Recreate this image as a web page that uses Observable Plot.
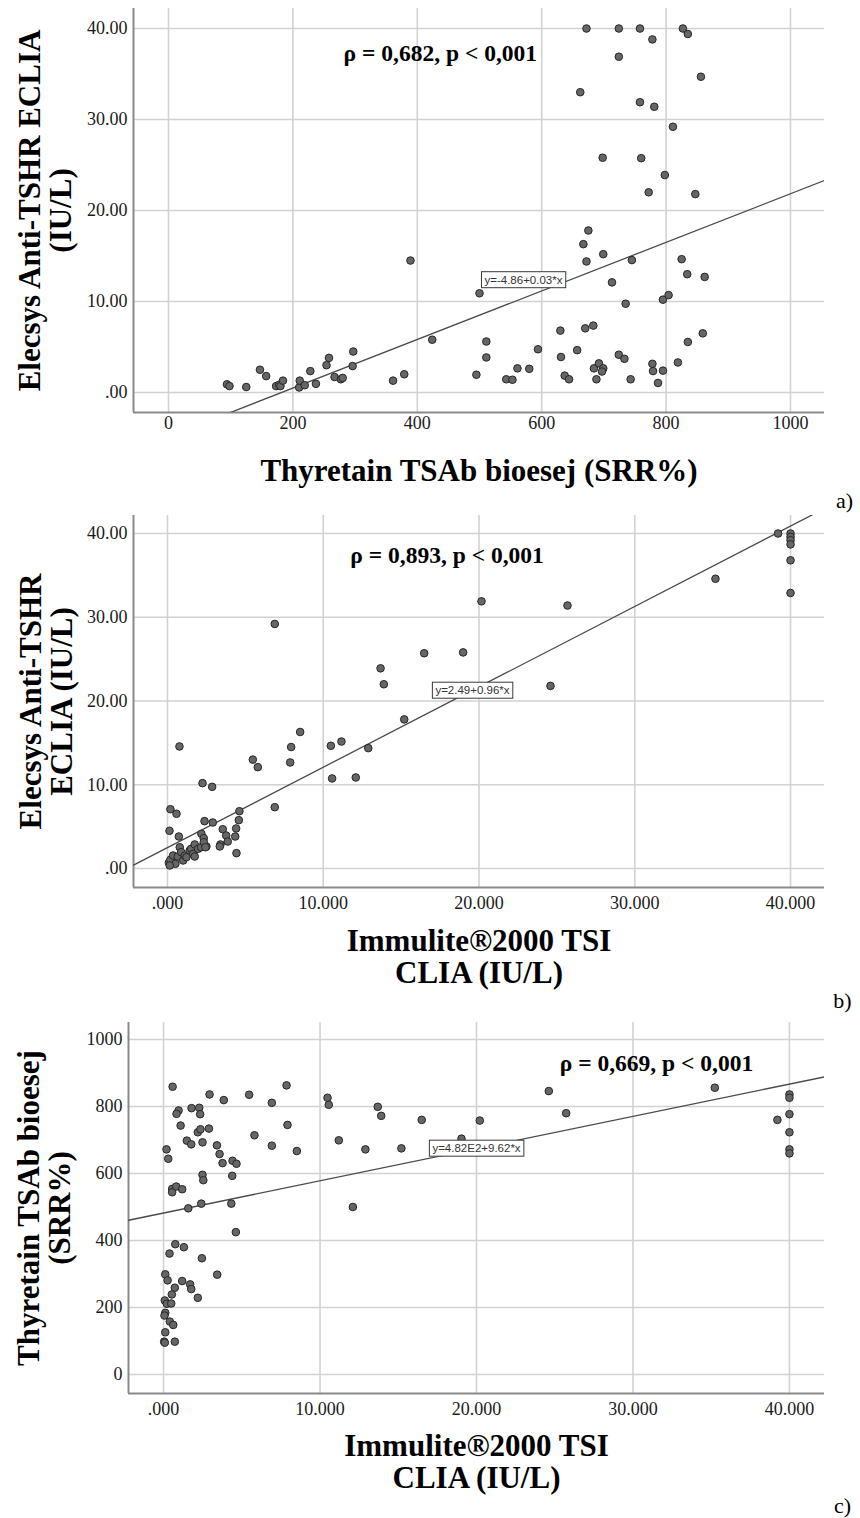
<!DOCTYPE html>
<html>
<head>
<meta charset="utf-8">
<script src="https://cdn.jsdelivr.net/npm/d3@7"></script>
<script src="https://cdn.jsdelivr.net/npm/@observablehq/plot@0.6"></script>
<style>
  html, body { margin: 0; padding: 0; background: #fff; }
  #chart { width: 860px; }
  #chart svg { display: block; }
  #chart svg g[aria-label="x-axis tick label"],
  #chart svg g[aria-label="y-axis tick label"] {
    font-family: 'Liberation Serif', 'Times New Roman', Times, serif;
    font-variant: normal;
  }
</style>
</head>
<body>
<div id="chart"></div>
<script>
// ---------- Panel a: Thyretain TSAb (x) vs Elecsys Anti-TSHR (y) ----------
const a_tsab = [94, 98, 125, 147, 157, 173, 178, 180, 184, 210, 211, 219, 228, 237, 254, 258, 267, 277, 280, 296, 297, 361, 379, 389, 424, 495, 500,
  672, 724, 758, 827, 835, 778, 724, 856, 662, 758, 781, 811, 698, 760, 798, 772, 847, 675, 667, 699, 672, 745, 825, 834, 862, 713, 735, 795, 804,
  630, 670, 683, 835, 859, 511, 511, 594, 657, 631, 724, 733, 819, 778, 779, 795, 787, 543, 553, 561, 580, 637, 644, 684, 692, 699, 697, 688, 743];
const a_elecsys = [0.9, 0.7, 0.6, 2.5, 1.8, 0.7, 0.85, 0.7, 1.3, 0.55, 1.3, 0.8, 2.35, 0.95, 3.0, 3.8, 1.7, 1.45, 1.6, 2.9, 4.5, 1.3, 2.0, 14.5, 5.8, 1.95, 10.9,
  40, 40, 40, 40, 39.4, 38.8, 36.9, 34.7, 33.0, 31.9, 31.4, 29.2, 25.8, 25.75, 23.9, 22.0, 21.8, 17.8, 16.3, 15.2, 14.4, 14.55, 14.65, 13.0, 12.7, 12.1, 9.75, 10.2, 10.7,
  6.8, 7.05, 7.35, 5.55, 6.5, 5.6, 3.85, 4.75, 4.65, 3.9, 4.15, 3.7, 3.3, 3.15, 2.35, 2.4, 1.05, 1.45, 1.4, 2.65, 2.6, 1.85, 1.45, 2.65, 3.2, 2.65, 2.3, 1.45, 1.45];

// ---------- Panel b: Immulite TSI (x) vs Elecsys Anti-TSHR (y) ----------
const b_immulite = [0.77, 8.52, 7.94, 7.88, 10.49, 11.17, 10.57, 5.48, 5.8, 2.25, 2.87, 6.89, 0.19, 0.58, 4.62, 4.58, 2.38, 2.91, 0.13, 0.73, 3.55, 4.41, 2.18, 3.77, 4.35, 2.33, 3.87, 3.4, 3.36, 2.5, 4.43,
  0.09, 0.19, 0.36, 0.51, 0.66, 0.79, 0.88, 1.01, 1.11, 1.22, 1.43, 1.52, 1.65, 1.75, 1.75, 1.97, 2.16, 2.33, 2.44, 0.15,
  6.89, 16.48, 13.68, 13.89, 15.2, 12.89, 12.09, 20.16, 18.98, 25.68, 24.59, 35.18, 39.2, 40, 40, 40, 40, 40, 40];
const b_elecsys = [14.57, 16.3, 14.5, 12.66, 14.65, 15.16, 10.75, 13.0, 12.1, 10.19, 9.75, 7.32, 7.08, 6.53, 6.84, 5.77, 5.65, 5.49, 4.5, 3.82, 4.69, 4.78, 4.14, 3.94, 3.82, 3.62, 3.22, 2.87, 2.63, 2.63, 1.83,
  0.68, 1.04, 1.55, 0.56, 1.43, 2.54, 1.95, 0.96, 1.55, 1.35, 2.15, 2.35, 1.75, 2.87, 1.43, 2.35, 2.54, 3.14, 2.54, 0.36,
  29.2, 25.7, 23.9, 22.0, 17.8, 14.37, 10.87, 31.9, 25.8, 31.4, 21.8, 34.6, 40, 40, 39.6, 39.2, 38.7, 36.8, 32.9];

// ---------- Panel c: Immulite TSI (x) vs Thyretain TSAb (y) ----------
const c_immulite = [0.58, 2.94, 3.85, 5.47, 7.86, 6.92, 10.48, 10.56, 1.79, 2.28, 2.34, 0.96, 0.83, 1.09, 2.19, 2.36, 2.9, 1.49, 1.77, 2.49, 3.41, 3.58, 3.77, 4.41, 4.66, 5.81, 6.92, 7.92, 8.52,
  0.19, 0.3, 2.49, 2.54, 4.39, 0.55, 0.55, 0.81, 1.19, 1.58, 2.41, 4.33, 4.62, 0.75, 1.3, 0.38, 2.45, 3.43, 0.11, 0.26, 1.19, 1.7, 1.77, 0.72, 0.53, 2.19,
  0.08, 0.21, 0.49, 0.11, 0.06, 0.4, 0.62, 0.11, 0.04, 0.08, 0.72,
  11.2, 13.69, 13.91, 12.9, 12.1, 15.2, 16.5, 20.21, 24.62, 25.73, 35.23, 39.23, 40, 40, 40, 40, 40, 40, 19.04];
const c_tsab = [859, 836, 819, 835, 863, 811, 826, 805, 795, 796, 777, 788, 778, 743, 723, 732, 734, 698, 687, 693, 684, 658, 631, 638, 629, 714, 683, 745, 667,
  672, 644, 596, 580, 593, 554, 544, 561, 553, 496, 510, 510, 425, 389, 380, 361, 347, 298, 299, 281, 279, 269, 255, 259, 239, 229,
  221, 211, 212, 184, 176, 158, 148, 126, 98, 95, 98,
  699, 799, 772, 672, 500, 675, 760, 758, 846, 780, 856, 760, 836, 826, 777, 723, 672, 660, 704];

// ---------- Ticks and labels ----------
const tsabTicks = [0, 200, 400, 600, 800, 1000];
const tsabTickLabels = ["0", "200", "400", "600", "800", "1000"];
const elecsysTicks = [0, 10, 20, 30, 40];
const elecsysTickLabels = [".00", "10.00", "20.00", "30.00", "40.00"];
const immuliteTicks = [0, 10, 20, 30, 40];
const immuliteTickLabels = [".000", "10.000", "20.000", "30.000", "40.000"];

// ---------- Regression fits (as printed / drawn) ----------
const fitA = {intercept: -4.86, slope: 0.0267, label: "y=-4.86+0.03*x"};
const fitB = {intercept: 2.49, slope: 0.96, label: "y=2.49+0.96*x"};
const fitC = {intercept: 482, slope: 9.62, label: "y=4.82E2+9.62*x"};

const rhoA = "ρ = 0,682, p < 0,001";
const rhoB = "ρ = 0,893, p < 0,001";
const rhoC = "ρ = 0,669, p < 0,001";

const serif = "'Liberation Serif', 'Times New Roman', Times, serif";
const sans = "'Liberation Sans', Arial, Helvetica, sans-serif";

function fmt(ticks, labels) { return d => labels[ticks.indexOf(d)] ?? ""; }

function panel(cfg) {
  const pts = cfg.xs.map((x, i) => ({x, y: cfg.ys[i]}));
  const fitPts = cfg.xDomain.map(x => ({x, y: cfg.fit.intercept + cfg.fit.slope * x}));
  const grid = {stroke: "#d2d2d2", strokeOpacity: 1, strokeWidth: 1.6};
  const axisLine = {stroke: "#8a8a8a", strokeWidth: 2};
  return Plot.plot({
    width: 860,
    height: cfg.height,
    marginTop: cfg.mt, marginBottom: cfg.mb, marginLeft: cfg.ml, marginRight: cfg.mr,
    x: {domain: cfg.xDomain},
    y: {domain: cfg.yDomain},
    style: {fontFamily: serif, background: "#fff", color: "#1a1a1a", overflow: "visible"},
    marks: [
      Plot.gridX(cfg.xTicks, grid),
      Plot.gridY(cfg.yTicks, grid),
      Plot.axisX(cfg.xTicks, {tickSize: 0, tickPadding: cfg.xPad, tickFormat: fmt(cfg.xTicks, cfg.xLabels), fontSize: 18, fontFamily: serif, fill: "#1a1a1a", label: null}),
      Plot.axisY(cfg.yTicks, {tickSize: 0, tickPadding: 6, tickFormat: fmt(cfg.yTicks, cfg.yLabels), fontSize: 18, fontFamily: serif, fill: "#1a1a1a", label: null}),
      Plot.ruleX([cfg.xDomain[0]], axisLine),
      Plot.ruleY([cfg.yDomain[0]], axisLine),
      Plot.line(fitPts, {x: "x", y: "y", stroke: "#4a4a4a", strokeWidth: 1.3, clip: true}),
      Plot.dot(pts, {x: "x", y: "y", r: 3.8, fill: "#666", stroke: "#262626", strokeWidth: 1}),
      Plot.text([cfg.fit.label], {x: cfg.eqPos[0], y: cfg.eqPos[1], fontFamily: sans, fontSize: 11.5, fill: "#333", textAnchor: "middle", lineAnchor: "middle"}),
      Plot.text([cfg.rho], {x: cfg.rhoPos[0], y: cfg.rhoPos[1], fontFamily: serif, fontSize: 23.5, fontWeight: "bold", fill: "#000", textAnchor: "middle", lineAnchor: "middle"}),
      Plot.text([cfg.yTitle], {frameAnchor: "left", dx: cfg.yTitleDx, rotate: -90, fontFamily: serif, fontSize: 31, fontWeight: "bold", fill: "#000", textAnchor: "middle", lineAnchor: "middle", lineHeight: 1.02}),
      Plot.text([cfg.xTitle], {frameAnchor: "bottom", dy: cfg.xTitleDy, fontFamily: serif, fontSize: 31, fontWeight: "bold", fill: "#000", textAnchor: "middle", lineAnchor: "middle", lineHeight: 1.05}),
      Plot.text([cfg.tag], {frameAnchor: "bottom-right", dx: cfg.tagD[0], dy: cfg.tagD[1], fontFamily: serif, fontSize: 22, fill: "#000", textAnchor: "middle", lineAnchor: "middle"})
    ]
  });
}

const panels = [
  {
    xs: a_tsab, ys: a_elecsys, height: 510, mt: 8, mb: 98, ml: 133, mr: 36,
    xDomain: [-56.3, 1054.7], yDomain: [-2.2, 42.2],
    xTicks: tsabTicks, xLabels: tsabTickLabels, yTicks: elecsysTicks, yLabels: elecsysTickLabels,
    xPad: 4, fit: fitA, rho: rhoA, eqPos: [570.7, 12.36], rhoPos: [437, 37.25],
    yTitle: "Elecsys Anti-TSHR ECLIA\n(IU/L)", yTitleDx: -88,
    xTitle: "Thyretain TSAb bioesej (SRR%)", xTitleDy: 58,
    tag: "a)", tagD: [20, 88]
  },
  {
    xs: b_immulite, ys: b_elecsys, height: 505, mt: 5, mb: 128, ml: 133, mr: 36,
    xDomain: [-2.18, 42.18], yDomain: [-2.27, 42.15],
    xTicks: immuliteTicks, xLabels: immuliteTickLabels, yTicks: elecsysTicks, yLabels: elecsysTickLabels,
    xPad: 9, fit: fitB, rho: rhoB, eqPos: [19.58, 21.25], rhoPos: [17.95, 37.37],
    yTitle: "Elecsys Anti-TSHR\nECLIA (IU/L)", yTitleDx: -87,
    xTitle: "Immulite®2000 TSI\nCLIA (IU/L)", xTitleDy: 69,
    tag: "b)", tagD: [18, 113]
  },
  {
    xs: c_immulite, ys: c_tsab, height: 503, mt: 7, mb: 125, ml: 128, mr: 36,
    xDomain: [-2.24, 42.24], yDomain: [-56.7, 1050.7],
    xTicks: immuliteTicks, xLabels: immuliteTickLabels, yTicks: tsabTicks, yLabels: tsabTickLabels,
    xPad: 9, fit: fitC, rho: rhoC, eqPos: [20.0, 674.6], rhoPos: [31.5, 928],
    yTitle: "Thyretain TSAb bioesej\n(SRR%)", yTitleDx: -84,
    xTitle: "Immulite®2000 TSI\nCLIA (IU/L)", xTitleDy: 68,
    tag: "c)", tagD: [18, 112]
  }
];

const container = document.getElementById("chart");
for (const cfg of panels) {
  const svg = panel(cfg);
  container.appendChild(svg);
  // draw a boxed background behind the regression equation label
  d3.select(svg).selectAll("text").filter(function () { return this.textContent === cfg.fit.label; }).each(function () {
    const bb = this.getBBox();
    const g = this.parentNode;
    d3.select(g).insert("rect", () => this)
      .attr("x", bb.x - 3).attr("y", bb.y - 2)
      .attr("width", bb.width + 6).attr("height", bb.height + 4)
      .attr("transform", this.getAttribute("transform"))
      .attr("fill", "#fff").attr("stroke", "#3a3a3a").attr("stroke-width", 1);
  });
}
</script>
</body>
</html>
